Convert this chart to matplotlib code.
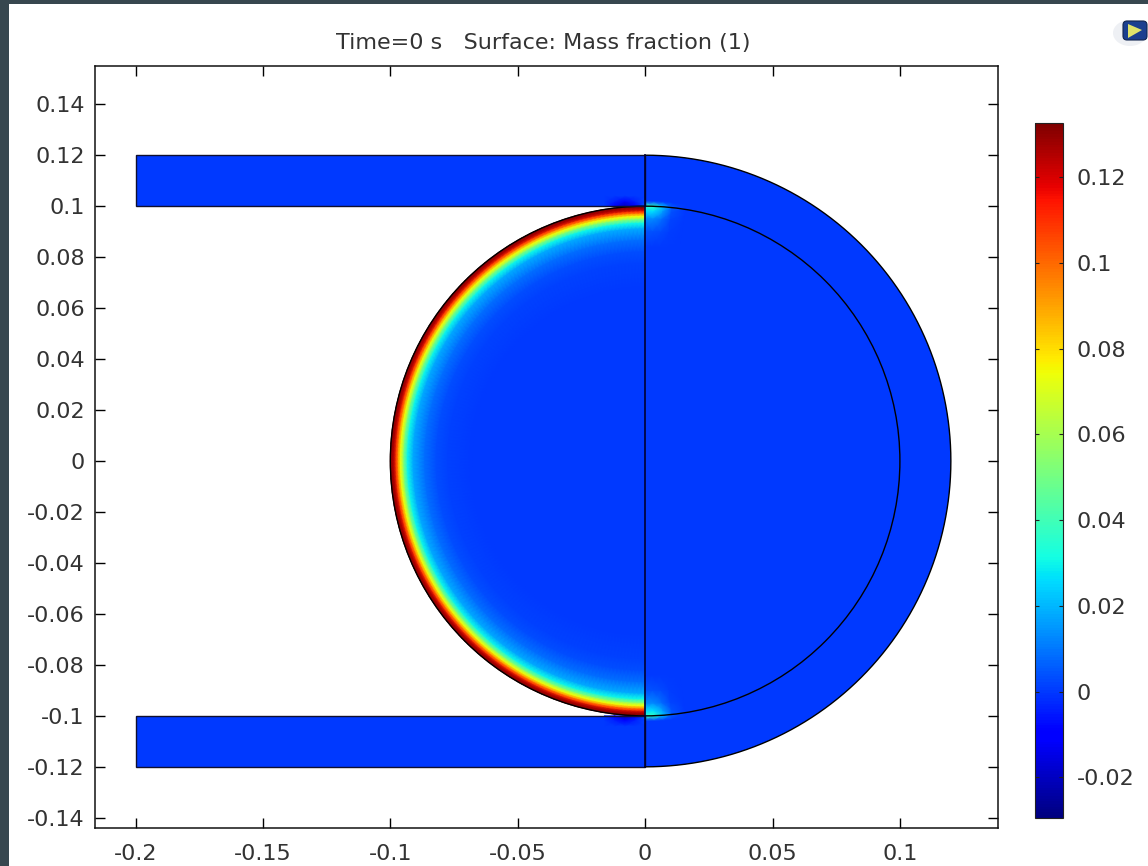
import numpy as np
import matplotlib
matplotlib.use("Agg")
import matplotlib.pyplot as plt
from matplotlib.cm import ScalarMappable
from matplotlib.colors import Normalize
from matplotlib.patches import Rectangle, Circle, Wedge, FancyBboxPatch, Ellipse, Polygon

# ---- values ----
title_text = "Time=0 s   Surface: Mass fraction (1)"
x_ticks = [-0.2, -0.15, -0.1, -0.05, 0, 0.05, 0.1]
x_labels = ["-0.2", "-0.15", "-0.1", "-0.05", "0", "0.05", "0.1"]
y_ticks = [-0.14, -0.12, -0.1, -0.08, -0.06, -0.04, -0.02, 0, 0.02, 0.04, 0.06, 0.08, 0.1, 0.12, 0.14]
y_labels = ["-0.14", "-0.12", "-0.1", "-0.08", "-0.06", "-0.04", "-0.02", "0",
            "0.02", "0.04", "0.06", "0.08", "0.1", "0.12", "0.14"]
cbar_ticks = [-0.02, 0, 0.02, 0.04, 0.06, 0.08, 0.1, 0.12]
cbar_labels = ["-0.02", "0", "0.02", "0.04", "0.06", "0.08", "0.1", "0.12"]
value_min, value_max = -0.0294, 0.1327

# radial profile of the left half, depth below the r=0.1 wall
left_depth = [0.0, 0.0014, 0.0023, 0.0032, 0.004, 0.0054, 0.0068, 0.009, 0.0135, 0.018, 0.0225, 0.032, 0.1]
left_value = [0.1327, 0.125, 0.108, 0.09, 0.075, 0.05, 0.03, 0.018, 0.008, 0.003, 0.001, 0.0, 0.0]

# spot just right of x=0 at the wall
spot_offset = [-0.002, 0.0, 0.002, 0.005, 0.01, 0.016]
spot_value = [0.0, 0.036, 0.026, 0.013, 0.004, 0.0]
spot_angle = [0, 2, 4, 6, 9]
spot_factor = [1.0, 1.0, 0.6, 0.15, 0.0]

# undershoot spot in the channel, next to x=0
chan_x = [-0.016, -0.012, -0.008, -0.004, 0.0]
chan_y = [0.1, 0.102, 0.104]
chan_value = [[0, -0.010, -0.020, -0.012, 0.005],
              [0, -0.004, -0.008, -0.004, 0.002],
              [0, 0, 0, 0, 0]]

# geometry of the domain
wall_r = 0.1
outer_r = 0.12
chan_left = -0.2

# ---- layout in pixels ----
W, H = 1148, 866
def fx(p): return p / W
def fy(p): return 1 - p / H

plt.rcParams["axes.unicode_minus"] = False
plt.rcParams["font.family"] = "DejaVu Sans"
TXT = "#333333"
FS = 16

fig = plt.figure(figsize=(W / 100, H / 100), dpi=100, facecolor="#37474f")
fig.patches.append(Rectangle((fx(9), 0), 1 - fx(9), fy(4), transform=fig.transFigure,
                             facecolor="white", edgecolor="none", figure=fig, zorder=-5))

ax = fig.add_axes([fx(94.5), fy(827.5), fx(998 - 94.5), fy(66) - fy(827.5)])
ax.set_xlim(-0.2161, 0.1385)
ax.set_ylim(-0.1438, 0.1550)

cmap = plt.get_cmap("jet")
norm = Normalize(value_min, value_max)
blue = cmap(norm(0))

# base regions at zero: annulus on the right, disc, channels
ax.add_patch(Wedge((0, 0), outer_r, -90, 90, facecolor=blue, edgecolor="none", zorder=1))
ax.add_patch(Circle((0, 0), wall_r, facecolor=blue, edgecolor="none", zorder=1))
for sgn in (1, -1):
    lo, hi = sorted((sgn * wall_r, sgn * outer_r))
    ax.add_patch(Rectangle((chan_left, lo), -chan_left, hi - lo, facecolor=blue, edgecolor="none", zorder=1.6))

# left half boundary layer
th = np.radians(np.linspace(90, 270, 181))
rr = wall_r - np.array(left_depth)
R, T = np.meshgrid(rr, th)
C = np.tile(np.array(left_value), (th.size, 1))
ax.pcolormesh(R * np.cos(T), R * np.sin(T), C, shading="gouraud", cmap=cmap, norm=norm, zorder=2)

# spots at the two junctions
for sgn in (1, -1):
    rs = wall_r - np.array(spot_offset)
    ang = np.radians(90 - np.array(spot_angle, dtype=float))
    Rs, Ts = np.meshgrid(rs, ang)
    Cs = np.outer(np.array(spot_factor), np.array(spot_value))
    ax.pcolormesh(Rs * np.cos(Ts), sgn * Rs * np.sin(Ts), Cs, shading="gouraud",
                  cmap=cmap, norm=norm, zorder=2.2)
    Xc, Yc = np.meshgrid(chan_x, chan_y)
    ax.pcolormesh(Xc, sgn * Yc, np.array(chan_value), shading="gouraud",
                  cmap=cmap, norm=norm, zorder=2.2)

# outlines
lw = 1.0
ax.add_patch(Circle((0, 0), wall_r, fill=False, edgecolor="black", lw=lw, zorder=3))
for sgn in (1, -1):
    lo, hi = sorted((sgn * wall_r, sgn * outer_r))
    ax.add_patch(Rectangle((chan_left, lo), -chan_left, hi - lo, fill=False, edgecolor="#101030", lw=lw, zorder=3))
th2 = np.radians(np.linspace(-90, 90, 361))
ax.plot(outer_r * np.cos(th2), outer_r * np.sin(th2), color="black", lw=lw, zorder=3)
ax.plot([0, 0], [-outer_r, outer_r], color="#000033", lw=1.2, zorder=3.1)

# axes furniture
ax.set_xticks(x_ticks, x_labels)
ax.set_yticks(y_ticks, y_labels)
ax.tick_params(axis="x", direction="in", top=True, bottom=True, length=7, width=1, pad=12,
               labelsize=FS, labelcolor=TXT)
ax.tick_params(axis="y", direction="in", left=True, right=True, length=7, width=1, pad=7,
               labelsize=FS, labelcolor=TXT)
for s in ax.spines.values():
    s.set_linewidth(1.1)
    s.set_color("#111111")
fig.text(fx(543.5), fy(43), title_text, ha="center", va="center", fontsize=FS, color=TXT)

# colour bar
cax = fig.add_axes([fx(1035), fy(817.5), fx(28), fy(123) - fy(817.5)])
cb = fig.colorbar(ScalarMappable(norm=norm, cmap=cmap), cax=cax)
cb.set_ticks(cbar_ticks, labels=cbar_labels)
cax.tick_params(axis="y", direction="in", left=True, right=True, length=3, width=0.8,
                pad=10, labelsize=FS, labelcolor=TXT, color="#222222")
cb.outline.set_linewidth(0.8)
cb.outline.set_edgecolor("#222222")

# application icon, top right corner
art = fig.add_axes([0, 0, 1, 1], facecolor="none")
art.set_xlim(0, W)
art.set_ylim(H, 0)
art.axis("off")
art.add_patch(Ellipse((1130, 33), 34, 26, facecolor="#eef0f4", edgecolor="none"))
art.add_patch(FancyBboxPatch((1125, 23), 20, 15, boxstyle="round,pad=2,rounding_size=4",
                             facecolor="#1a3f8f", edgecolor="#12264f", lw=0.8))
art.add_patch(Polygon([(1128, 24), (1142, 30), (1128, 38)], closed=True, facecolor="#dfe36a", edgecolor="none"))

fig.savefig("out.png", dpi=100, facecolor=fig.get_facecolor())
